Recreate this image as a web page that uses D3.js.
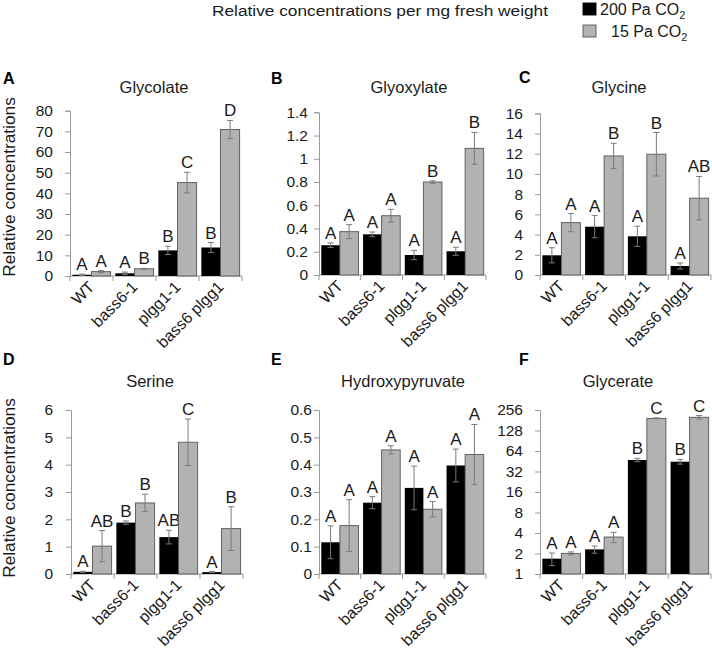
<!DOCTYPE html>
<html>
<head>
<meta charset="utf-8">
<script src="https://cdn.jsdelivr.net/npm/d3@7"></script>
<style>
  html, body { margin: 0; padding: 0; background: #fff; }
  svg { display: block; font-family: "Liberation Sans", Arial, sans-serif; }
</style>
</head>
<body>
<svg id="chart" width="712" height="658"></svg>
<script>
// ---------------- data ----------------
const genotypes = ["WT", "bass6-1", "plgg1-1", "bass6 plgg1"];
const seriesNames = ["200 Pa CO", "15 Pa CO"];
const panelLetters = ["A", "B", "C", "D", "E", "F"];
const metabolites = ["Glycolate", "Glyoxylate", "Glycine", "Serine", "Hydroxypyruvate", "Glycerate"];

const glycolate200 = [0.6, 1.3, 12.4, 13.8];
const glycolate200Err = [0.3, 0.6, 2.0, 2.4];
const glycolate15 = [2.1, 3.5, 45.2, 70.9];
const glycolate15Err = [0.5, 0.2, 5.0, 4.4];
const glycolateSig200 = ["A", "A", "B", "B"];
const glycolateSig15 = ["A", "B", "C", "D"];
const glycolateTicks = [0, 10, 20, 30, 40, 50, 60, 70, 80];

const glyoxylate200 = [0.256, 0.35, 0.172, 0.204];
const glyoxylate200Err = [0.02, 0.02, 0.04, 0.035];
const glyoxylate15 = [0.373, 0.51, 0.80, 1.09];
const glyoxylate15Err = [0.06, 0.055, 0.01, 0.137];
const glyoxylateSig200 = ["A", "A", "A", "A"];
const glyoxylateSig15 = ["A", "A", "B", "B"];
const glyoxylateTicks = [0, 0.2, 0.4, 0.6, 0.8, 1, 1.2, 1.4];

const glycine200 = [1.95, 4.78, 3.83, 0.89];
const glycine200Err = [0.75, 1.1, 1.0, 0.3];
const glycine15 = [5.18, 11.78, 11.95, 7.6];
const glycine15Err = [0.9, 1.25, 2.15, 2.15];
const glycineSig200 = ["A", "A", "A", "A"];
const glycineSig15 = ["A", "B", "B", "AB"];
const glycineTicks = [0, 2, 4, 6, 8, 10, 12, 14, 16];

const serine200 = [0.08, 1.88, 1.35, 0.07];
const serine200Err = [0.02, 0.06, 0.25, 0.02];
const serine15 = [1.02, 2.6, 4.82, 1.66];
const serine15Err = [0.57, 0.32, 0.85, 0.8];
const serineSig200 = ["A", "B", "AB", "A"];
const serineSig15 = ["AB", "B", "C", "B"];
const serineTicks = [0, 1, 2, 3, 4, 5, 6];

const hydroxypyruvate200 = [0.116, 0.261, 0.315, 0.397];
const hydroxypyruvate200Err = [0.06, 0.022, 0.08, 0.06];
const hydroxypyruvate15 = [0.177, 0.454, 0.237, 0.437];
const hydroxypyruvate15Err = [0.095, 0.015, 0.028, 0.11];
const hydroxypyruvateSig200 = ["A", "A", "A", "A"];
const hydroxypyruvateSig15 = ["A", "A", "A", "A"];
const hydroxypyruvateTicks = [0, 0.1, 0.2, 0.3, 0.4, 0.5, 0.6];

const glycerate200 = [1.68, 2.3, 47.2, 44.6];
const glycerate200Err = [0.35, 0.28, 2.7, 3.5];
const glycerate15 = [2.01, 3.49, 193, 200];
const glycerate15Err = [0.1, 0.6, 3, 12];
const glycerateSig200 = ["A", "A", "B", "B"];
const glycerateSig15 = ["A", "A", "C", "C"];
const glycerateTicks = [1, 2, 4, 8, 16, 32, 64, 128, 256];

const panelsData = [
  {v200: glycolate200, e200: glycolate200Err, v15: glycolate15, e15: glycolate15Err, s200: glycolateSig200, s15: glycolateSig15, ticks: glycolateTicks},
  {v200: glyoxylate200, e200: glyoxylate200Err, v15: glyoxylate15, e15: glyoxylate15Err, s200: glyoxylateSig200, s15: glyoxylateSig15, ticks: glyoxylateTicks},
  {v200: glycine200, e200: glycine200Err, v15: glycine15, e15: glycine15Err, s200: glycineSig200, s15: glycineSig15, ticks: glycineTicks},
  {v200: serine200, e200: serine200Err, v15: serine15, e15: serine15Err, s200: serineSig200, s15: serineSig15, ticks: serineTicks},
  {v200: hydroxypyruvate200, e200: hydroxypyruvate200Err, v15: hydroxypyruvate15, e15: hydroxypyruvate15Err, s200: hydroxypyruvateSig200, s15: hydroxypyruvateSig15, ticks: hydroxypyruvateTicks},
  {v200: glycerate200, e200: glycerate200Err, v15: glycerate15, e15: glycerate15Err, s200: glycerateSig200, s15: glycerateSig15, ticks: glycerateTicks, log: true}
];

// ---------------- layout ----------------
const layout = [
  {x0: 70,  x1: 242, yTop: 110.7, yBot: 276, labGap: 17, titleX: 154, letterX: 3,   letterY: 84,  titleY: 93},
  {x0: 319, x1: 486, yTop: 112.3, yBot: 275, labGap: 11, titleX: 409, letterX: 271, letterY: 84,  titleY: 93},
  {x0: 540, x1: 711, yTop: 113.3, yBot: 275, labGap: 17, titleX: 619, letterX: 519, letterY: 83,  titleY: 93},
  {x0: 71,  x1: 243, yTop: 410,   yBot: 574, labGap: 18, titleX: 150, letterX: 3,   letterY: 365, titleY: 387},
  {x0: 319, x1: 486, yTop: 410,   yBot: 574, labGap: 7,  titleX: 403, letterX: 271, letterY: 365, titleY: 387},
  {x0: 540, x1: 711, yTop: 410,   yBot: 574, labGap: 17, titleX: 618, letterX: 519, letterY: 365, titleY: 387}
];

const colBlack = "#000000";
const colGrey = "#b2b2b2";
const axisCol = "#9a9a9a";
const errCol = "#7a7a7a";
const textCol = "#1a1a1a";

const svg = d3.select("#chart");

panelsData.forEach((pd, i) => {
  const L = layout[i];
  const g = svg.append("g");
  const x = d3.scaleBand().domain(genotypes).range([L.x0, L.x1]).paddingInner(0).paddingOuter(0);
  const ext = d3.extent(pd.ticks);
  const y = pd.log
    ? d3.scaleLog().base(2).domain(ext).range([L.yBot, L.yTop])
    : d3.scaleLinear().domain(ext).range([L.yBot, L.yTop]);
  const base = pd.log ? 1 : 0;
  const bw = x.bandwidth();
  const pad = bw * 0.055;
  const barW = (bw - 2 * pad) / 2;

  // y axis
  const yAxis = d3.axisLeft(y).tickValues(pd.ticks).tickSize(5).tickPadding(L.labGap - 5)
    .tickFormat(d => String(+d.toFixed(2)));
  const ya = g.append("g").attr("transform", `translate(${L.x0},0)`).call(yAxis);
  ya.select(".domain").attr("stroke", axisCol);
  ya.selectAll(".tick line").attr("stroke", axisCol);
  ya.selectAll(".tick text").attr("fill", textCol).style("font-size", "15.5px")
    .style("font-family", "'Liberation Sans', Arial, sans-serif");

  // x axis
  g.append("line").attr("x1", L.x0).attr("x2", L.x1).attr("y1", L.yBot).attr("y2", L.yBot)
    .attr("stroke", axisCol);
  const bounds = genotypes.map(d => x(d)).concat([L.x1]);
  g.selectAll(".xt").data(bounds).enter().append("line")
    .attr("x1", d => d).attr("x2", d => d).attr("y1", L.yBot).attr("y2", L.yBot + 5)
    .attr("stroke", axisCol);

  // bars
  const series = [
    {vals: pd.v200, errs: pd.e200, sig: pd.s200, fill: colBlack, stroke: "#000", off: 0},
    {vals: pd.v15, errs: pd.e15, sig: pd.s15, fill: colGrey, stroke: "#555", off: 1}
  ];
  series.forEach(s => {
    genotypes.forEach((gt, k) => {
      const bx = x(gt) + pad + s.off * barW;
      const v = s.vals[k], e = s.errs[k];
      g.append("rect")
        .attr("x", bx).attr("width", barW)
        .attr("y", y(v)).attr("height", y(base) - y(v))
        .attr("fill", s.fill).attr("stroke", s.stroke).attr("stroke-width", s.off ? 0.9 : 0);
      const cx = bx + barW / 2;
      const lo = Math.max(v - e, base);
      const hi = v + e;
      g.append("line").attr("x1", cx).attr("x2", cx).attr("y1", y(lo)).attr("y2", y(hi))
        .attr("stroke", errCol).attr("stroke-width", 1);
      [lo, hi].forEach(t => {
        g.append("line").attr("x1", cx - 3).attr("x2", cx + 3).attr("y1", y(t)).attr("y2", y(t))
          .attr("stroke", errCol).attr("stroke-width", 1);
      });
      g.append("text").attr("x", cx).attr("y", y(hi) - 4)
        .attr("text-anchor", "middle").attr("fill", textCol)
        .style("font-size", "17px").text(s.sig[k]);
    });
  });

  // category labels
  genotypes.forEach(gt => {
    const cx = x(gt) + bw / 2 + 4;
    const cy = L.yBot + 12;
    g.append("text").attr("transform", `translate(${cx},${cy}) rotate(-45)`)
      .attr("text-anchor", "end").attr("fill", textCol)
      .style("font-size", "16px").text(gt);
  });

  // titles
  g.append("text").attr("x", L.titleX).attr("y", L.titleY).attr("text-anchor", "middle")
    .attr("fill", textCol).style("font-size", "16.5px").text(metabolites[i]);
  g.append("text").attr("x", L.letterX).attr("y", L.letterY).attr("fill", "#000")
    .style("font-size", "16px").style("font-weight", "bold").text(panelLetters[i]);
});

// y-axis titles
[187, 488].forEach(cy => {
  svg.append("text").attr("transform", `translate(15,${cy}) rotate(-90)`)
    .attr("text-anchor", "middle").attr("fill", textCol)
    .style("font-size", "17.3px").text("Relative concentrations");
});

// overall title
svg.append("text").attr("x", 212).attr("y", 16).attr("fill", textCol)
  .style("font-size", "15.5px").attr("textLength", 336).attr("lengthAdjust", "spacingAndGlyphs")
  .text("Relative concentrations per mg fresh weight");

// legend
const legendY = [15, 37];
const legendTextX = [600, 611];
const legendFill = [colBlack, colGrey];
seriesNames.forEach((nm, i) => {
  svg.append("rect").attr("x", 583).attr("y", legendY[i] - 12).attr("width", 13).attr("height", 12)
    .attr("fill", legendFill[i]).attr("stroke", i ? "#555" : "#000").attr("stroke-width", 0.9);
  const t = svg.append("text").attr("x", legendTextX[i]).attr("y", legendY[i])
    .attr("fill", textCol).style("font-size", "16px");
  t.append("tspan").text(nm);
  t.append("tspan").attr("dy", 4).style("font-size", "11px").text("2");
});
</script>
</body>
</html>
